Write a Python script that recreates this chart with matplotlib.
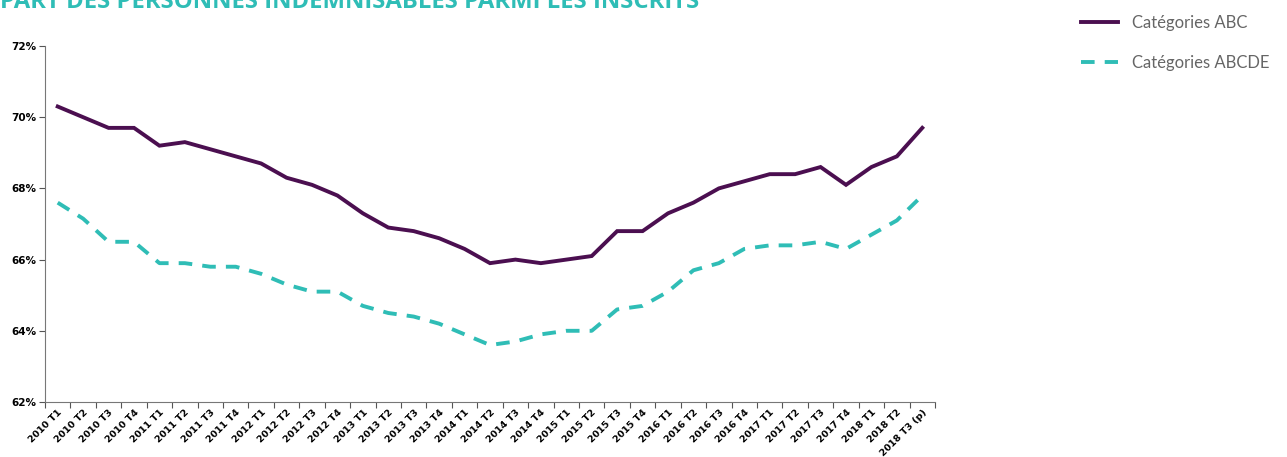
import numpy as np
import matplotlib.pyplot as plt
from matplotlib.ticker import FixedLocator, NullFormatter

periodes = []
for an in range(2010, 2019):
    for t in range(1, 5):
        periodes.append(f"{an} T{t}")
periodes = periodes[:35]
periodes[-1] = "2018 T3 (p)"

abc = [70.3, 70.0, 69.7, 69.7, 69.2, 69.3, 69.1, 68.9, 68.7, 68.3, 68.1, 67.8,
       67.3, 66.9, 66.8, 66.6, 66.3, 65.9, 66.0, 65.9, 66.0, 66.1, 66.8, 66.8,
       67.3, 67.6, 68.0, 68.2, 68.4, 68.4, 68.6, 68.1, 68.6, 68.9, 69.7]
abcde = [67.6, 67.15, 66.5, 66.5, 65.9, 65.9, 65.8, 65.8, 65.6, 65.3, 65.1, 65.1,
         64.7, 64.5, 64.4, 64.2, 63.9, 63.6, 63.7, 63.9, 64.0, 64.0, 64.6, 64.7,
         65.1, 65.7, 65.9, 66.3, 66.4, 66.4, 66.5, 66.3, 66.7, 67.1, 67.8]

violet = "#4b0f50"
turquoise = "#2fbdb6"

fig = plt.figure(figsize=(12.87, 4.57), dpi=100)
ax = fig.add_axes([45/1287, 1-402/457, 890/1287, 356/457])

x = np.arange(len(periodes))
l1, = ax.plot(x, abc, color=violet, lw=2.8, solid_joinstyle="miter")
l2, = ax.plot(x, abcde, color=turquoise, lw=2.8, dashes=(3.5, 2.6))

ax.set_xlim(-0.5, len(periodes) - 0.5)
ax.set_ylim(62, 72)
ax.set_yticks(np.arange(62, 73, 2))
ax.set_yticklabels([f"{v}%" for v in range(62, 73, 2)], fontsize=7.5, fontweight="bold")

ax.xaxis.set_major_locator(FixedLocator(np.arange(-0.5, len(periodes), 1)))
ax.xaxis.set_major_formatter(NullFormatter())
ax.xaxis.set_minor_locator(FixedLocator(x))
ax.set_xticklabels(periodes, minor=True, rotation=45, ha="right", rotation_mode="anchor",
                   fontsize=6.8, fontweight="bold")
ax.tick_params(axis="x", which="minor", length=0, pad=4)
ax.tick_params(axis="x", which="major", length=4, color="#555555")
ax.tick_params(axis="y", length=4, color="#555555", pad=2)

for s in ["top", "right"]:
    ax.spines[s].set_visible(False)
for s in ["left", "bottom"]:
    ax.spines[s].set_color("#777777")

# titre coupé en haut, comme sur l'original
fig.text(0.0, 1 - 8/457, "PART DES PERSONNES INDEMNISABLES PARMI LES INSCRITS",
         color=turquoise, fontsize=17.2, fontweight="bold", ha="left", va="baseline",
         family="Open Sans")

fig.legend([l1, l2], ["Catégories ABC", "Catégories ABCDE"], loc="upper left",
           bbox_to_anchor=(1066/1287, 1 - 0/457), frameon=False,
           labelcolor="#666666", handlelength=2.2, handletextpad=0.85, labelspacing=1.45,
           prop={"family": "Lato", "size": 12})

fig.savefig("out.png", dpi=100)
